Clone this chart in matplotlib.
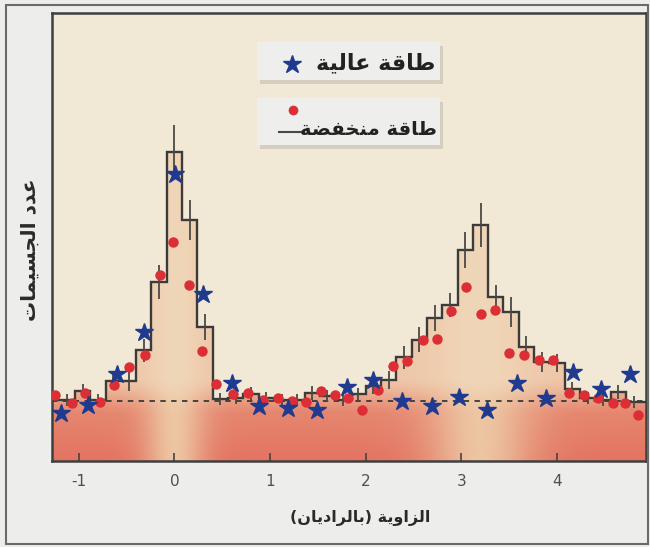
import numpy as np
import matplotlib
matplotlib.use("Agg")
import matplotlib.pyplot as plt
from matplotlib.patches import Polygon, Rectangle
from matplotlib.lines import Line2D

# ---------------------------------------------------------------- data
# low-energy histogram: bins of 0.16 rad, centred on multiples of the bin width
bin_width = 0.16
bin_centers = np.arange(-8, 32) * bin_width
low_counts = [6.1, 6.1, 7.0, 6.1, 8.0, 8.0, 11.1, 18.0,
              31.0, 24.2, 13.5, 6.2, 6.3, 6.7, 6.3, 6.1, 6.1, 6.8, 6.5, 6.1,
              6.7, 7.5, 8.1, 10.4, 12.2, 14.4, 15.7, 21.2, 23.7, 16.5, 15.0, 11.5,
              9.9, 9.8, 7.2, 6.3, 6.1, 6.9, 5.9, 5.9]
low_errors = [0.6, 0.6, 0.7, 0.6, 0.8, 1.0, 1.2, 1.7,
              2.7, 2.0, 1.3, 0.6, 0.6, 0.7, 0.6, 0.6, 0.6, 0.7, 0.6, 0.6,
              0.6, 0.8, 0.9, 1.2, 1.3, 1.3, 1.2, 1.8, 2.2, 1.2, 1.5, 1.1,
              1.0, 0.9, 0.7, 0.6, 0.6, 0.7, 0.6, 0.6]

# low-energy points (red)
low_x = [-1.25, -1.07, -0.94, -0.78, -0.63, -0.47, -0.31, -0.15, -0.02, 0.15,
         0.29, 0.43, 0.61, 0.77, 0.93, 1.08, 1.23, 1.38, 1.53, 1.68,
         1.81, 1.96, 2.13, 2.29, 2.43, 2.60, 2.75, 2.89, 3.05, 3.21,
         3.35, 3.50, 3.65, 3.81, 3.96, 4.12, 4.28, 4.43, 4.58, 4.71, 4.85]
low_y = [6.6, 5.8, 6.8, 5.9, 7.6, 9.4, 10.6, 18.7, 22.0, 17.7,
         11.0, 7.7, 6.7, 6.8, 6.1, 6.3, 6.0, 5.9, 7.0, 6.6,
         6.3, 5.1, 7.1, 9.5, 10.0, 12.2, 12.3, 15.1, 17.5, 14.8,
         15.2, 10.8, 10.6, 10.1, 10.1, 6.8, 6.6, 6.3, 5.8, 5.8, 4.6]

# high-energy points (blue stars)
high_x = [-1.19, -0.90, -0.60, -0.32, 0.01, 0.30, 0.60, 0.88, 1.19, 1.49,
          1.80, 2.08, 2.38, 2.69, 2.97, 3.27, 3.58, 3.88, 4.17, 4.46, 4.76]
high_y = [4.8, 5.6, 8.7, 13.0, 28.8, 16.8, 7.8, 5.5, 5.3, 5.1,
          7.4, 8.1, 6.0, 5.5, 6.4, 5.1, 7.8, 6.3, 8.9, 7.2, 8.7]

background_level = 6.0
x_ticks = [-1, 0, 1, 2, 3, 4]

x_label = "الزاوية (بالراديان)"
y_label = "عدد الجسيمات"
high_label = "طاقة عالية"
low_label = "طاقة منخفضة"

# ---------------------------------------------------------------- arabic shaping
# (isolated, final, initial, medial) presentation forms
FORMS = {
    "ا": ("\ufe8d", "\ufe8e", None, None),
    "ب": ("\ufe8f", "\ufe90", "\ufe91", "\ufe92"),
    "ة": ("\ufe93", "\ufe94", None, None),
    "ت": ("\ufe95", "\ufe96", "\ufe97", "\ufe98"),
    "ج": ("\ufe9d", "\ufe9e", "\ufe9f", "\ufea0"),
    "خ": ("\ufea5", "\ufea6", "\ufea7", "\ufea8"),
    "د": ("\ufea9", "\ufeaa", None, None),
    "ر": ("\ufead", "\ufeae", None, None),
    "ز": ("\ufeaf", "\ufeb0", None, None),
    "س": ("\ufeb1", "\ufeb2", "\ufeb3", "\ufeb4"),
    "ض": ("\ufebd", "\ufebe", "\ufebf", "\ufec0"),
    "ط": ("\ufec1", "\ufec2", "\ufec3", "\ufec4"),
    "ع": ("\ufec9", "\ufeca", "\ufecb", "\ufecc"),
    "ف": ("\ufed1", "\ufed2", "\ufed3", "\ufed4"),
    "ق": ("\ufed5", "\ufed6", "\ufed7", "\ufed8"),
    "ل": ("\ufedd", "\ufede", "\ufedf", "\ufee0"),
    "م": ("\ufee1", "\ufee2", "\ufee3", "\ufee4"),
    "ن": ("\ufee5", "\ufee6", "\ufee7", "\ufee8"),
    "و": ("\ufeed", "\ufeee", None, None),
    "ي": ("\ufef1", "\ufef2", "\ufef3", "\ufef4"),
}


def shape(text):
    chars = list(text)
    out = []
    for i, c in enumerate(chars):
        if c not in FORMS:
            out.append(c)
            continue
        prev = chars[i - 1] if i > 0 else None
        nxt = chars[i + 1] if i + 1 < len(chars) else None
        join_prev = prev in FORMS and FORMS[prev][2] is not None
        join_next = FORMS[c][2] is not None and nxt in FORMS
        iso, fin, ini, med = FORMS[c]
        if join_prev and join_next:
            out.append(med)
        elif join_prev:
            out.append(fin)
        elif join_next:
            out.append(ini)
        else:
            out.append(iso)
    visual = "".join(reversed(out))
    return visual.translate(str.maketrans("()", ")("))


AR_FONT = ["DejaVu Sans"]

# ---------------------------------------------------------------- figure
W, H = 650, 547
fig = plt.figure(figsize=(W / 100, H / 100), dpi=100, facecolor="#ededec")
ax = fig.add_axes([52 / W, (H - 461) / H, 594 / W, 448 / H])
ax.set_facecolor("#f1e9d6")

xmin, xmax, ymin, ymax = -1.28, 4.93, 0, 45

# histogram outline polygon (used to clip the shaded fill)
edges = np.append(bin_centers - bin_width / 2, bin_centers[-1] + bin_width / 2)
hx = np.repeat(edges, 2)
hy = np.concatenate([[0], np.repeat(low_counts, 2), [0]])
hist_poly = Polygon(np.column_stack([hx, hy]), closed=True,
                    transform=ax.transData, facecolor="none", edgecolor="none")

# shaded fill: warm red band at the bottom, lighter under the two peaks
xs = np.linspace(xmin, xmax, 700)
ys = np.linspace(ymin, ymax, 500)
X, Y = np.meshgrid(xs, ys)
w = np.maximum(np.exp(-((X - 0.0) / 0.32) ** 2), np.exp(-((X - 3.2) / 0.55) ** 2))[..., None]
red = np.array([227, 116, 98]) / 255
salmon = np.array([234, 166, 134]) / 255
tan = np.array([238, 205, 168]) / 255
peach = np.array([240, 214, 184]) / 255
ty = np.clip(Y / 6.0, 0, 1)[..., None]
band = red * (1 - 0.45 * ty) + salmon * (0.45 * ty)
band = band * (1 - 0.9 * w) + tan * (0.9 * w)
upper = peach * (1 - 0.35 * (1 - w)) + salmon * (0.35 * (1 - w))
s = np.clip((Y - 4.5) / 4.0, 0, 1)[..., None]
s = s * s * (3 - 2 * s)
img = band * (1 - s) + upper * s
im = ax.imshow(img, extent=[xmin, xmax, ymin, ymax], origin="lower",
               aspect="auto", interpolation="bilinear", zorder=1)
im.set_clip_path(hist_poly)

ax.axhline(background_level, color="#3a3938", lw=1.3, ls=(0, (3, 3)), zorder=2)
ax.stairs(low_counts, edges, baseline=None, color="#3d3b3a", lw=1.7, zorder=3)
ax.errorbar(bin_centers, low_counts, yerr=low_errors, fmt="none",
            ecolor="#4a4846", elinewidth=1.3, capsize=0, zorder=3)
ax.plot(low_x, low_y, "o", color="#dc2f35", ms=7.5, mec="none", zorder=4)
ax.plot(high_x, high_y, "*", color="#1f3a8e", ms=13.5, mec="#1f3a8e", zorder=5)

ax.set_xlim(xmin, xmax)
ax.set_ylim(ymin, ymax)
ax.set_xticks(x_ticks)
ax.set_xticklabels([str(t) for t in x_ticks])
ax.set_yticks([])
ax.tick_params(axis="x", direction="in", length=6, width=1.2, color="#444444",
               pad=9, labelsize=11, labelcolor="#505050")
for sp in ax.spines.values():
    sp.set_color("#3f3f3f")
    sp.set_linewidth(1.8)

ax.set_xlabel(shape(x_label), family=AR_FONT, fontsize=11.5, fontweight="bold",
              color="#2a2a2a", va="center")
ax.xaxis.set_label_coords(0.518, -0.127)
ax.set_ylabel(shape(y_label), family=AR_FONT, fontsize=14.5, fontweight="bold",
              color="#2a2a2a", va="center", rotation=90)
ax.yaxis.set_label_coords(-0.037, 0.471)

# ---------------------------------------------------------------- legend boxes
for (x0, y0, x1, y1) in [(0.3446, 0.8504, 0.6532, 0.9359),
                         (0.3446, 0.7054, 0.6532, 0.8103)]:
    ax.add_patch(Rectangle((x0 + 0.005, y0 - 0.009), x1 - x0, y1 - y0,
                           transform=ax.transAxes, facecolor="#d5cdbd",
                           edgecolor="none", zorder=6))
    ax.add_patch(Rectangle((x0, y0), x1 - x0, y1 - y0, transform=ax.transAxes,
                           facecolor="#eeeeec", edgecolor="none", zorder=7))

ax.plot([0.404], [0.886], "*", color="#1f3a8e", ms=13.5, transform=ax.transAxes, zorder=8)
ax.text(0.645, 0.889, shape(high_label), family=AR_FONT, fontsize=16,
        fontweight="bold", color="#222222", ha="right", va="center",
        transform=ax.transAxes, zorder=8)

ax.plot([0.406], [0.7835], "o", color="#dc2f35", ms=7, mec="none",
        transform=ax.transAxes, zorder=8)
ax.add_line(Line2D([0.382, 0.425], [0.735, 0.735], color="#4a4846", lw=1.5,
                   transform=ax.transAxes, zorder=8))
ax.text(0.648, 0.739, shape(low_label), family=AR_FONT, fontsize=14,
        fontweight="bold", color="#222222", ha="right", va="center",
        transform=ax.transAxes, zorder=8)

# outer frame around the panel
fig.patches.append(Rectangle((6 / W, 3 / H), 642 / W, 539 / H, transform=fig.transFigure,
                             fill=False, edgecolor="#6b6b6b", lw=1.5))

fig.savefig("out.png", dpi=100, facecolor=fig.get_facecolor())
